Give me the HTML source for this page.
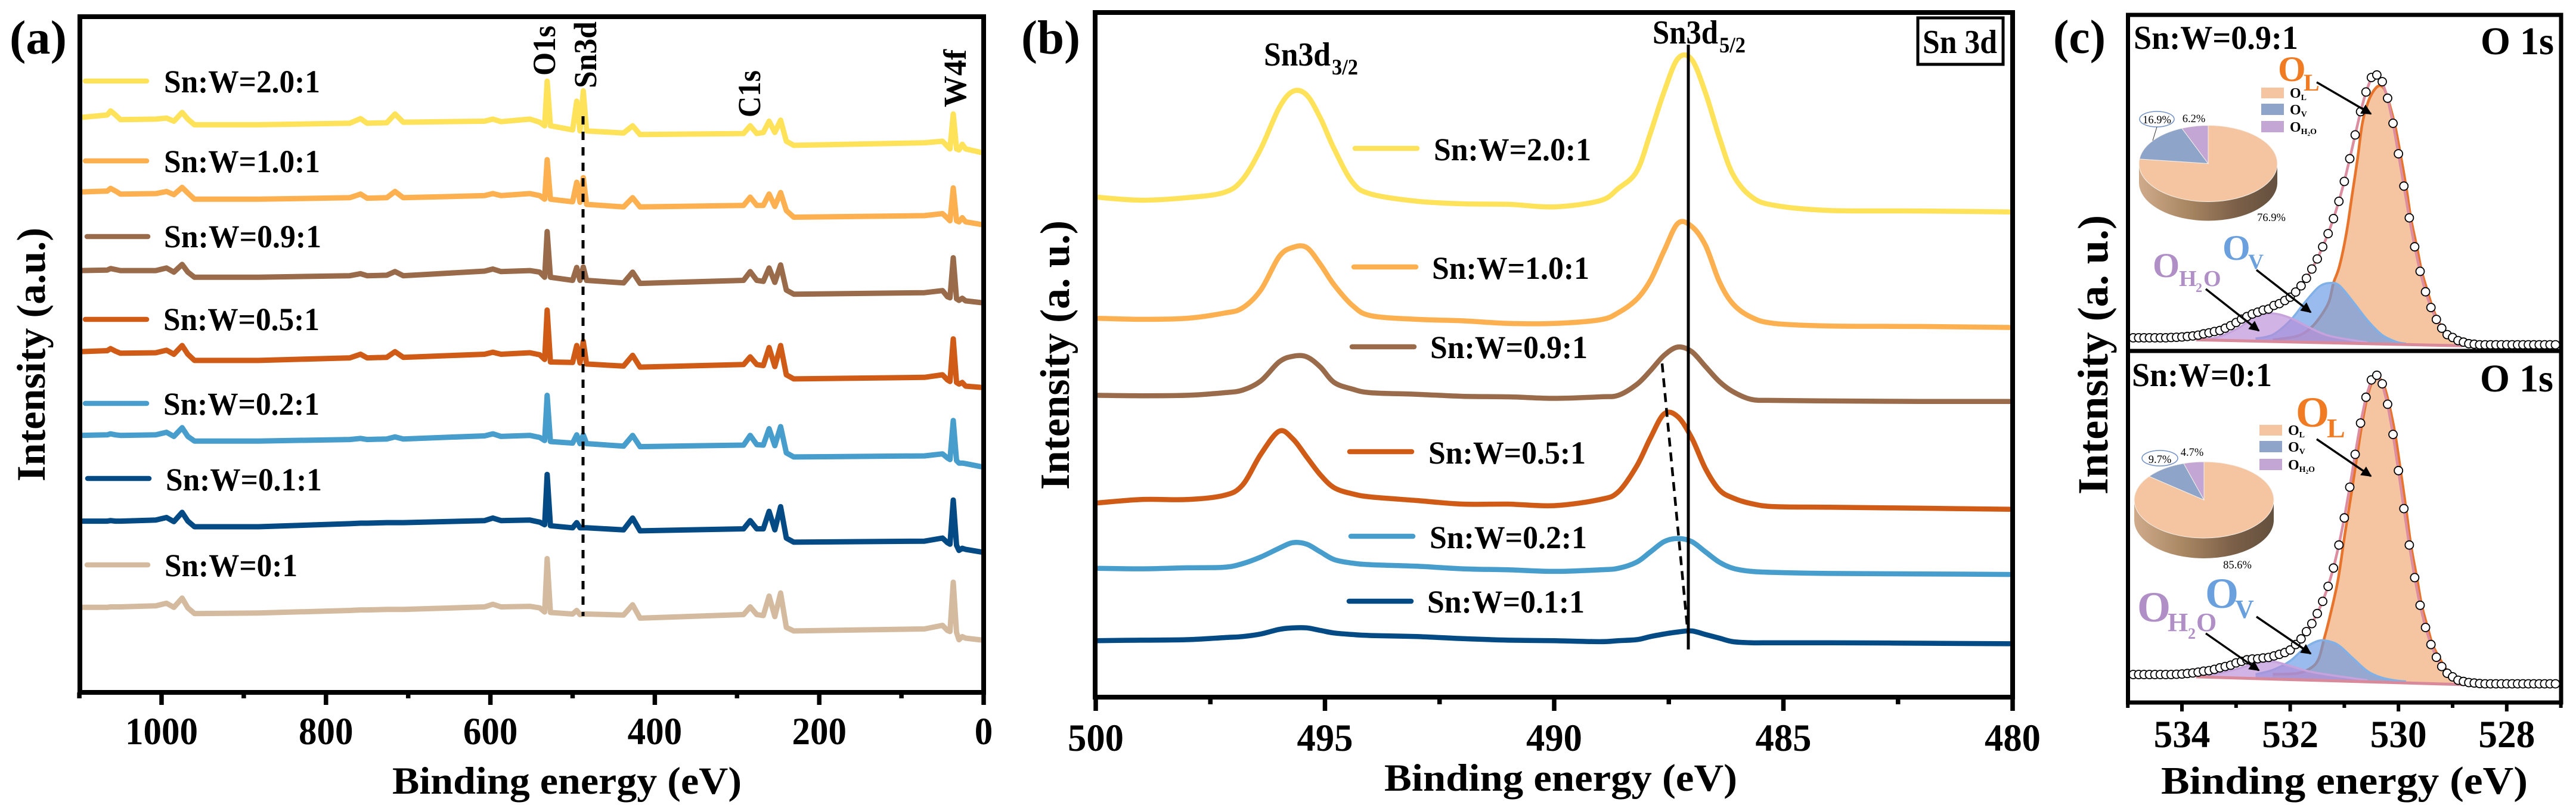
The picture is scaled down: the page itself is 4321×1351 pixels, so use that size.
<!DOCTYPE html>
<html lang="en">
<head>
<meta charset="utf-8">
<title>XPS spectra of Sn:W samples</title>
<style>
html,body{margin:0;padding:0;background:#fff;}
svg{display:block;}
text{font-family:"Liberation Serif",serif;font-weight:bold;fill:#000;}
.lg{font-size:54px;}
.thin{font-weight:normal;}
</style>
</head>
<body>
<svg id="figure" xmlns="http://www.w3.org/2000/svg" width="4321" height="1351" viewBox="0 0 4321 1351">
<defs>
<linearGradient id="pieSide" x1="0" x2="1" y1="0" y2="0">
<stop offset="0" stop-color="#cfab8b"/><stop offset="0.35" stop-color="#a98763"/><stop offset="0.7" stop-color="#7c6048"/><stop offset="1" stop-color="#63503e"/>
</linearGradient>
<marker id="arrowHead" viewBox="0 0 10 10" refX="9" refY="5" markerWidth="5" markerHeight="5" orient="auto"><path d="M0 0L10 5L0 10Z" fill="#000"/></marker>
</defs>
<rect width="4321" height="1351" fill="#fff"/>

<g id="panelA">
<g id="seriesA"></g>
<rect x="134" y="28" width="1516" height="1134" fill="none" stroke="#000" stroke-width="8"/>
<g id="ticksA"></g>
<line x1="978" y1="195" x2="978" y2="1034" stroke="#000" stroke-width="5" stroke-dasharray="14 12"/>
<text x="16" y="90" font-size="80" textLength="96" lengthAdjust="spacingAndGlyphs">(a)</text>
<text transform="translate(75,808) rotate(-90)" font-size="68" textLength="426" lengthAdjust="spacingAndGlyphs">Intensity (a.u.)</text>
<text x="658" y="1332" font-size="65" textLength="586" lengthAdjust="spacingAndGlyphs">Binding energy (eV)</text>
<text transform="translate(931,127) rotate(-90)" font-size="54" textLength="84" lengthAdjust="spacingAndGlyphs">O1s</text>
<text transform="translate(1000,148) rotate(-90)" font-size="54" textLength="112" lengthAdjust="spacingAndGlyphs">Sn3d</text>
<text transform="translate(1275,197) rotate(-90)" font-size="54" textLength="79" lengthAdjust="spacingAndGlyphs">C1s</text>
<text transform="translate(1620,180) rotate(-90)" font-size="54" textLength="97" lengthAdjust="spacingAndGlyphs">W4f</text>
<g stroke-linecap="round">
<line x1="143" y1="136" x2="246" y2="136" stroke="#fde25a" stroke-width="8.6"/>
<text class="lg" x="275" y="155" textLength="262" lengthAdjust="spacingAndGlyphs">Sn:W=2.0:1</text>
<line x1="143" y1="270" x2="246" y2="270" stroke="#fdb04f" stroke-width="8.6"/>
<text class="lg" x="275" y="289" textLength="262" lengthAdjust="spacingAndGlyphs">Sn:W=1.0:1</text>
<line x1="146" y1="397" x2="248" y2="397" stroke="#9a6b4a" stroke-width="8.6"/>
<text class="lg" x="275" y="415" textLength="264" lengthAdjust="spacingAndGlyphs">Sn:W=0.9:1</text>
<line x1="143" y1="536" x2="246" y2="536" stroke="#cf5b17" stroke-width="8.6"/>
<text class="lg" x="274" y="554" textLength="262" lengthAdjust="spacingAndGlyphs">Sn:W=0.5:1</text>
<line x1="143" y1="677" x2="246" y2="677" stroke="#479dcb" stroke-width="8.6"/>
<text class="lg" x="274" y="696" textLength="262" lengthAdjust="spacingAndGlyphs">Sn:W=0.2:1</text>
<line x1="147" y1="803" x2="250" y2="803" stroke="#044a85" stroke-width="8.6"/>
<text class="lg" x="278" y="823" textLength="262" lengthAdjust="spacingAndGlyphs">Sn:W=0.1:1</text>
<line x1="146" y1="948" x2="248" y2="948" stroke="#d4bb9f" stroke-width="8.6"/>
<text class="lg" x="276" y="967" textLength="223" lengthAdjust="spacingAndGlyphs">Sn:W=0:1</text>
</g>
</g>

<g id="panelB">
<g id="seriesB"></g>
<rect x="1837" y="21" width="1539" height="1149" fill="none" stroke="#000" stroke-width="8"/>
<g id="ticksB"></g>
<line x1="2832" y1="75" x2="2832" y2="1090" stroke="#000" stroke-width="5"/>
<line x1="2788" y1="610" x2="2831" y2="1060" stroke="#000" stroke-width="4.5" stroke-dasharray="15 10"/>
<text x="1713" y="90" font-size="80" textLength="99" lengthAdjust="spacingAndGlyphs">(b)</text>
<text transform="translate(1793,822) rotate(-90)" font-size="70" textLength="452" lengthAdjust="spacingAndGlyphs">Intensity (a. u.)</text>
<text x="2322" y="1327" font-size="65" textLength="592" lengthAdjust="spacingAndGlyphs">Binding energy (eV)</text>
<g>
<text x="2120" y="110" font-size="56" textLength="112" lengthAdjust="spacingAndGlyphs">Sn3d</text>
<text x="2234" y="125" font-size="37" textLength="44" lengthAdjust="spacingAndGlyphs">3/2</text>
</g>
<g>
<text x="2772" y="73" font-size="56" textLength="110" lengthAdjust="spacingAndGlyphs">Sn3d</text>
<text x="2884" y="88" font-size="37" textLength="44" lengthAdjust="spacingAndGlyphs">5/2</text>
</g>
<rect x="3217" y="30" width="143" height="78" fill="#fff" stroke="#000" stroke-width="5"/>
<text x="3225" y="89" font-size="56" textLength="125" lengthAdjust="spacingAndGlyphs">Sn 3d</text>
<g stroke-linecap="round">
<line x1="2273" y1="249" x2="2377" y2="249" stroke="#fde25a" stroke-width="8.6"/>
<text class="lg" x="2405" y="269" textLength="264" lengthAdjust="spacingAndGlyphs">Sn:W=2.0:1</text>
<line x1="2271" y1="448" x2="2375" y2="448" stroke="#fdb04f" stroke-width="8.6"/>
<text class="lg" x="2402" y="468" textLength="264" lengthAdjust="spacingAndGlyphs">Sn:W=1.0:1</text>
<line x1="2268" y1="582" x2="2372" y2="582" stroke="#9a6b4a" stroke-width="8.6"/>
<text class="lg" x="2399" y="601" textLength="264" lengthAdjust="spacingAndGlyphs">Sn:W=0.9:1</text>
<line x1="2264" y1="758" x2="2368" y2="758" stroke="#cf5b17" stroke-width="8.6"/>
<text class="lg" x="2396" y="778" textLength="264" lengthAdjust="spacingAndGlyphs">Sn:W=0.5:1</text>
<line x1="2266" y1="900" x2="2370" y2="900" stroke="#479dcb" stroke-width="8.6"/>
<text class="lg" x="2398" y="920" textLength="264" lengthAdjust="spacingAndGlyphs">Sn:W=0.2:1</text>
<line x1="2263" y1="1009" x2="2367" y2="1009" stroke="#044a85" stroke-width="8.6"/>
<text class="lg" x="2394" y="1028" textLength="264" lengthAdjust="spacingAndGlyphs">Sn:W=0.1:1</text>
</g>
</g>

<g id="panelC">
<g id="fitsC"></g>
<rect x="3569.5" y="25" width="726.5" height="1154" fill="none" stroke="#000" stroke-width="7"/>
<line x1="3569" y1="589" x2="4296" y2="589" stroke="#000" stroke-width="7"/>
<g id="ticksC"></g>
<g id="piesC"></g>
<text x="3444" y="89" font-size="80" textLength="88" lengthAdjust="spacingAndGlyphs">(c)</text>
<text transform="translate(3535,830) rotate(-90)" font-size="72" textLength="469" lengthAdjust="spacingAndGlyphs">Intensity (a. u.)</text>
<text x="3625" y="1332" font-size="66" textLength="615" lengthAdjust="spacingAndGlyphs">Binding energy (eV)</text>
<text x="3579" y="82" font-size="56" textLength="276" lengthAdjust="spacingAndGlyphs">Sn:W=0.9:1</text>
<text x="4161" y="91" font-size="66" textLength="123" lengthAdjust="spacingAndGlyphs">O 1s</text>
<text x="3576" y="648" font-size="56" textLength="235" lengthAdjust="spacingAndGlyphs">Sn:W=0:1</text>
<text x="4160" y="657" font-size="66" textLength="123" lengthAdjust="spacingAndGlyphs">O 1s</text>

<g>
<rect x="3793" y="147" width="38" height="18" fill="#f5c4a0"/>
<text x="3841" y="164" font-size="24">O<tspan font-size="14" dy="4">L</tspan></text>
<rect x="3793" y="174" width="38" height="19" fill="#8ea4c8"/>
<text x="3841" y="192" font-size="24">O<tspan font-size="14" dy="4">V</tspan></text>
<rect x="3793" y="203" width="38" height="19" fill="#c3a6d3"/>
<text x="3841" y="221" font-size="24">O<tspan font-size="14" dy="4">H</tspan><tspan font-size="9" dy="3">2</tspan><tspan font-size="14" dy="-3">O</tspan></text>
</g>
<g>
<rect x="3790" y="713" width="38" height="18" fill="#f5c4a0"/>
<text x="3838" y="730" font-size="24">O<tspan font-size="14" dy="4">L</tspan></text>
<rect x="3790" y="740" width="38" height="19" fill="#8ea4c8"/>
<text x="3838" y="758" font-size="24">O<tspan font-size="14" dy="4">V</tspan></text>
<rect x="3790" y="770" width="38" height="19" fill="#c3a6d3"/>
<text x="3838" y="788" font-size="24">O<tspan font-size="14" dy="4">H</tspan><tspan font-size="9" dy="3">2</tspan><tspan font-size="14" dy="-3">O</tspan></text>
</g>

<g>
<ellipse cx="3618" cy="200" rx="29" ry="13" fill="none" stroke="#6f8fc5" stroke-width="1.5"/>
<line x1="3618" y1="213" x2="3611" y2="236" stroke="#333" stroke-width="1"/>
<text class="thin" x="3618" y="207" font-size="18.5" text-anchor="middle">16.9%</text>
<text class="thin" x="3680" y="205" font-size="18.5" text-anchor="middle">6.2%</text>
<text class="thin" x="3810" y="371" font-size="18.5" text-anchor="middle">76.9%</text>
</g>
<g>
<ellipse cx="3623" cy="769" rx="30" ry="13" fill="none" stroke="#6f8fc5" stroke-width="1.5"/>
<text class="thin" x="3623" y="777" font-size="18.5" text-anchor="middle">9.7%</text>
<text class="thin" x="3677" y="765" font-size="18.5" text-anchor="middle">4.7%</text>
<text class="thin" x="3753" y="954" font-size="18.5" text-anchor="middle">85.6%</text>
</g>

<g>
<text x="3821" y="136" font-size="60" style="fill:#f07b23">O</text>
<text x="3864" y="152" font-size="40" style="fill:#f07b23">L</text>
<text x="3728" y="436" font-size="60" style="fill:#6ba0de">O</text>
<text x="3771" y="451" font-size="36" style="fill:#6ba0de">V</text>
<text x="3611" y="465" font-size="58" style="fill:#b08fc7">O</text>
<text x="3655" y="480" font-size="38" style="fill:#b08fc7">H</text>
<text x="3683" y="490" font-size="22" style="fill:#b08fc7">2</text>
<text x="3696" y="480" font-size="38" style="fill:#b08fc7">O</text>
</g>
<g>
<text x="3851" y="716" font-size="72" style="fill:#f07b23">O</text>
<text x="3903" y="734" font-size="46" style="fill:#f07b23">L</text>
<text x="3699" y="1020" font-size="72" style="fill:#6ba0de">O</text>
<text x="3749" y="1037" font-size="44" style="fill:#6ba0de">V</text>
<text x="3585" y="1043" font-size="72" style="fill:#b08fc7">O</text>
<text x="3636" y="1059" font-size="44" style="fill:#b08fc7">H</text>
<text x="3670" y="1072" font-size="26" style="fill:#b08fc7">2</text>
<text x="3684" y="1059" font-size="44" style="fill:#b08fc7">O</text>
</g>
<g stroke="#000" stroke-width="3.5">
<line x1="3886" y1="138" x2="3977" y2="191" marker-end="url(#arrowHead)"/>
<line x1="3785" y1="453" x2="3876" y2="524" marker-end="url(#arrowHead)"/>
<line x1="3700" y1="485" x2="3789" y2="555" marker-end="url(#arrowHead)"/>
<line x1="3886" y1="737" x2="3977" y2="799" marker-end="url(#arrowHead)"/>
<line x1="3785" y1="1035" x2="3876" y2="1097" marker-end="url(#arrowHead)"/>
<line x1="3700" y1="1063" x2="3789" y2="1125" marker-end="url(#arrowHead)"/>
</g>
</g>
</svg>

<script>
/* ---------- Panel (a): survey spectra ---------- */
const surveyEnergies = [1100,1066,1062,1056,1050,1007,994,985,975,968,960,882,771,758,750,726,716,706,607,597,587,552,540,534,531,527,500,495,491,487,483,438,427,418,292,284,276,268,261,254,247,240,231,72,50,44,41,37,33,30,26,22,0];
const surveyW20 = [1121,1126,1134,1126,1117,1118,1120,1114,1131,1118,1107,1107,1110,1119,1110,1111,1128,1112,1114,1118,1113,1118,1112,1105,1192,1105,1097,1153,1095,1173,1095,1091,1105,1088,1090,1105,1090,1092,1114,1092,1116,1075,1067,1072,1075,1065,1060,1128,1060,1058,1069,1060,1052];
const surveyW10 = [976,978,983,978,972,973,977,971,985,974,962,962,965,972,964,965,977,965,969,973,969,973,969,962,1039,962,957,995,956,1004,952,947,965,947,950,966,950,950,972,948,975,940,927,930,934,925,920,984,920,918,926,918,912];
const surveyW09 = [823,824,827,825,823,823,828,820,835,820,810,810,813,817,813,814,821,813,822,826,821,823,820,810,899,810,804,829,804,830,804,799,820,798,804,821,804,802,828,800,834,785,777,780,784,772,770,848,768,765,769,764,760];
const surveyW05 = [665,667,671,666,662,663,668,660,677,660,648,648,653,660,653,654,665,654,660,664,660,663,659,650,746,645,644,677,643,685,641,637,658,635,640,655,640,638,673,636,677,620,612,615,620,610,607,690,605,602,605,598,595];
const surveyW02 = [502,503,505,503,502,503,508,500,517,500,491,491,494,496,494,495,499,495,501,505,500,502,498,492,580,490,487,503,486,503,486,481,502,480,483,502,484,483,515,482,519,468,460,462,466,458,455,531,453,448,448,447,440];
const surveyW01 = [335,335,336,335,335,337,342,334,352,335,324,324,330,331,331,332,332,332,336,341,336,337,333,328,426,326,322,332,322,322,322,318,341,316,320,336,320,320,354,318,363,302,294,296,302,293,290,376,288,278,282,280,274];
const surveyW00 = [167,167,168,168,168,170,175,167,185,166,155,156,161,162,162,163,163,163,168,173,168,169,166,158,262,157,154,161,153,154,154,152,172,146,153,168,153,151,189,149,195,128,121,125,132,122,120,216,118,104,110,107,103];
const surveyMajorTicks = [1000,800,600,400,200,0];
const surveyMinorTicks = [1100,900,700,500,300,100];

/* ---------- Panel (b): Sn 3d spectra ---------- */
const snEnergies = [500,499,498,497.2,496.8,496.4,496,495.7,495.4,495.1,494.8,494.4,494,493,492,491,490,489,488.6,488.2,487.9,487.6,487.3,487,486.7,486.4,486.1,485.7,485.2,484,482,480];
const snW20 = [974,968,973,983,1008,1068,1148,1180,1173,1128,1068,1003,980,966,961,960,955,967,991,1024,1099,1180,1244,1242,1177,1091,1018,975,958,948,947,945];
const snW10 = [738,736,738,748,758,793,858,876,876,843,803,763,743,736,733,728,728,735,749,775,812,870,923,917,880,810,766,740,728,723,722,720];
const snW09 = [588,587,588,593,598,616,653,664,663,643,613,600,593,590,586,585,582,585,588,609,636,666,682,673,644,615,595,580,578,577,576,576];
const snW05 = [378,385,385,393,413,473,518,503,468,433,408,396,390,383,376,376,373,385,400,450,505,552,546,505,445,404,388,377,371,370,368,366];
const snW02 = [251,250,252,253,260,273,290,301,298,283,268,261,258,255,250,248,245,248,251,263,283,303,309,303,283,263,251,245,243,241,240,239];
const snW01 = [110,111,112,116,118,123,132,135,135,130,125,122,120,118,114,111,110,108,110,112,118,123,127,129,122,115,108,106,106,106,105,104];
const snMajorTicks = [500,495,490,485,480];
const snMinorTicks = [497.5,492.5,487.5,482.5];

/* ---------- Panel (c): O 1s spectra ---------- */
const o1sEnergies = [534.9,534.8,534.7,534.6,534.5,534.4,534.3,534.2,534.1,534.0,533.9,533.8,533.7,533.6,533.5,533.4,533.3,533.2,533.1,533.0,532.9,532.8,532.7,532.6,532.5,532.4,532.3,532.2,532.1,532.0,531.9,531.8,531.7,531.6,531.5,531.4,531.3,531.2,531.1,531.0,530.9,530.8,530.7,530.6,530.5,530.4,530.3,530.2,530.1,530.0,529.9,529.8,529.7,529.6,529.5,529.4,529.3,529.2,529.1,529.0,528.9,528.8,528.7,528.6,528.5,528.4,528.3,528.2,528.1,528.0,527.9,527.8,527.7,527.6,527.5,527.4,527.3,527.2,527.1];
const topRaw = [43,43,43,43,43,43,43,44,45,46,48,50,53,58,62,67,71,80,90,102,115,125,135,142,150,154,168,175,187,200,220,244,273,309,348,395,446,504,571,648,736,828,918,994,1050,1060,1034,970,873,755,630,507,395,300,221,160,114,80,55,44,32,26,20,18,16,16,16,16,16,16,16,16,16,16,16,16,16,16,16];
const bottomRaw = [109,109,109,109,109,109,109,109,110,111,113,115,118,122,124,129,135,140,145,154,160,166,169,170,173,175,181,187,194,204,225,247,275,306,345,392,450,521,610,715,834,961,1082,1182,1249,1267,1234,1155,1038,898,751,610,484,377,291,225,176,140,114,100,87,82,78,76,74,73,73,73,73,73,73,73,73,73,73,73,73,73,73,73];
const topOLEnergies = [532.32,531.86,531.6,531.41,531.28,531.2,531.09,530.96,530.86,530.76,530.67,530.57,530.47,530.36,530.26,530.17,530.06,529.96,529.86,529.77,529.66,529.57,529.46,529.37,529.27,529.15,529.02,528.82];
const topOL = [35,50,85,135,185,255,320,450,590,730,870,950,995,1018,1005,950,860,750,630,505,395,300,221,160,110,70,40,12];
const bottomOLEnergies = [532.32,531.86,531.6,531.47,531.38,531.28,531.12,530.99,530.86,530.76,530.67,530.57,530.47,530.36,530.26,530.17,530.06,529.96,529.86,529.77,529.66,529.57,529.46,529.37,529.24,529.11,528.95,528.82];
const bottomOL = [110,114,137,172,242,322,472,652,822,962,1082,1187,1247,1257,1222,1152,1038,898,751,610,484,377,291,225,172,127,92,72];
const ovEnergies = [532.64,532.32,532.0,531.73,531.47,531.27,531.09,530.83,530.57,530.31,530.05,529.86];
const topOV = [40,55,110,180,240,255,245,180,110,55,28,20];
const bottomOV = [110,127,162,212,240,237,220,170,122,97,86,82];
const oh2oEnergies = [533.74,533.35,532.96,532.64,532.32,532.0,531.67,531.35,531.03,530.57];
const topOH2O = [35,45,80,125,137,120,85,55,40,25];
const bottomOH2O = [102,112,132,152,159,142,122,110,100,87];
const baselineEnergies = [533.74,528.82];
const topBaseline = [35,12];
const bottomBaseline = [100,70];
const o1sMajorTicks = [534,532,530,528];
const o1sMinorTicks = [535,533,531,529,527];
const topPieShares = [76.9,16.9,6.2];
const bottomPieShares = [85.6,9.7,4.7];

/* ---------- colours ---------- */
const SERIES_COLORS = {w20:'#fde25a',w10:'#fdb04f',w09:'#9a6b4a',w05:'#cf5b17',w02:'#479dcb',w01:'#044a85',w00:'#d4bb9f'};
const PIE_COLORS = ['#f5c4a0','#8ea4c8','#c3a6d3'];
const SVG_NS = 'http://www.w3.org/2000/svg';

/* ---------- axis functions ---------- */
const xA = e => 1650 - e * 1.379;
const yA = v => 1163.2 - v * 0.8616;
const xB = e => 1838 + (500 - e) * 76.9;
const yB = v => 1170 - v * 0.8616;
const xC = e => 3660 + (534 - e) * 90.8;
const yTop = v => 585.5 - v * 0.4337;
const yBottom = v => 1179.3 - v * 0.4337;

function mk(tag, attrs, parent) {
  const n = document.createElementNS(SVG_NS, tag);
  for (const k in attrs) n.setAttribute(k, attrs[k]);
  parent.appendChild(n);
  return n;
}
function polyline(xs, ys, fx, fy) {
  const n = Math.min(xs.length, ys.length);
  let d = '';
  for (let i = 0; i < n; i++) d += (i ? 'L' : 'M') + fx(xs[i]).toFixed(1) + ' ' + fy(ys[i]).toFixed(1);
  return d;
}
function smooth(xs, ys, fx, fy) {
  const n = Math.min(xs.length, ys.length), p = [];
  for (let i = 0; i < n; i++) p.push([fx(xs[i]), fy(ys[i])]);
  let d = 'M' + p[0][0].toFixed(1) + ' ' + p[0][1].toFixed(1);
  for (let i = 0; i < n - 1; i++) {
    const a = p[Math.max(i - 1, 0)], b = p[i], c = p[i + 1], e = p[Math.min(i + 2, n - 1)];
    d += 'C' + (b[0] + (c[0] - a[0]) / 6).toFixed(1) + ' ' + (b[1] + (c[1] - a[1]) / 6).toFixed(1) + ' ' +
         (c[0] - (e[0] - b[0]) / 6).toFixed(1) + ' ' + (c[1] - (e[1] - b[1]) / 6).toFixed(1) + ' ' +
         c[0].toFixed(1) + ' ' + c[1].toFixed(1);
  }
  return d;
}

/* ---------- draw (a) and (b) series ---------- */
const seriesA = document.getElementById('seriesA');
[['w00',surveyW00],['w01',surveyW01],['w02',surveyW02],['w05',surveyW05],['w09',surveyW09],['w10',surveyW10],['w20',surveyW20]].forEach(function (s) {
  const el = mk('path', {d: polyline(surveyEnergies, s[1], xA, yA), fill: 'none', stroke: SERIES_COLORS[s[0]], 'stroke-width': 9, 'stroke-linejoin': 'round'}, seriesA);
  
  
});
const seriesB = document.getElementById('seriesB');
[['w01',snW01],['w02',snW02],['w05',snW05],['w09',snW09],['w10',snW10],['w20',snW20]].forEach(function (s) {
  const el = mk('path', {d: smooth(snEnergies, s[1], xB, yB), fill: 'none', stroke: SERIES_COLORS[s[0]], 'stroke-width': 8.5, 'stroke-linejoin': 'round'}, seriesB);
  
  
});

/* ---------- ticks ---------- */
function drawTicks(groupId, major, minor, fx, axisY, majorLen, minorLen, labelY, fontSize, tickWidth, digitWidth) {
  const g = document.getElementById(groupId);
  major.forEach(function (t) {
    const tick = mk('line', {x1: fx(t), x2: fx(t), y1: axisY, y2: axisY + majorLen, stroke: '#000', 'stroke-width': tickWidth}, g);
    
    
    const label = mk('text', {x: fx(t), y: labelY, 'font-size': fontSize, 'text-anchor': 'middle', textLength: String(t).length * digitWidth, lengthAdjust: 'spacingAndGlyphs'}, g);
    label.textContent = String(t);
    
    
  });
  minor.forEach(function (t) {
    const tick = mk('line', {x1: fx(t), x2: fx(t), y1: axisY, y2: axisY + minorLen, stroke: '#000', 'stroke-width': tickWidth}, g);
    
    
  });
}
drawTicks('ticksA', surveyMajorTicks, surveyMinorTicks, xA, 1162, 21, 10, 1249, 65, 7.5, 30.5);
drawTicks('ticksB', snMajorTicks, snMinorTicks, xB, 1170, 23, 12, 1260, 65, 7.5, 31.3);
drawTicks('ticksC', o1sMajorTicks, o1sMinorTicks, xC, 1179, 15, 9, 1254, 65, 6, 31.6);

/* ---------- draw (c) fits ---------- */
function baseAt(e, base) {
  const t = (e - baselineEnergies[0]) / (baselineEnergies[1] - baselineEnergies[0]);
  return base[0] + (base[1] - base[0]) * t;
}
function drawO1s(prefix, raw, olE, ol, ov, oh2o, base, fy) {
  const g = document.getElementById('fitsC');
  const closeOn = function (xs) {
    const last = xs[xs.length - 1], first = xs[0];
    return 'L' + xC(last).toFixed(1) + ' ' + fy(baseAt(last, base)).toFixed(1) + 'L' + xC(first).toFixed(1) + ' ' + fy(baseAt(first, base)).toFixed(1) + 'Z';
  };
  const olFill = mk('path', {d: smooth(olE, ol, xC, fy) + closeOn(olE), fill: '#f5c4a0', stroke: 'none'}, g);
  
  
  const olLine = mk('path', {d: smooth(olE, ol, xC, fy), fill: 'none', stroke: '#e8732a', 'stroke-width': 4.5}, g);
  
  
  const ovFill = mk('path', {d: smooth(ovEnergies, ov, xC, fy) + closeOn(ovEnergies), fill: 'rgba(105,155,230,0.68)', stroke: 'none'}, g);
  
  
  const ovLine = mk('path', {d: smooth(ovEnergies, ov, xC, fy), fill: 'none', stroke: '#7fb0e8', 'stroke-width': 3.5}, g);
  
  
  const phFill = mk('path', {d: smooth(oh2oEnergies, oh2o, xC, fy) + closeOn(oh2oEnergies), fill: 'rgba(185,140,215,0.65)', stroke: 'none'}, g);
  
  
  const phLine = mk('path', {d: smooth(oh2oEnergies, oh2o, xC, fy), fill: 'none', stroke: '#c6a3dc', 'stroke-width': 3.5}, g);
  
  
  const bl = mk('path', {d: polyline(baselineEnergies, base, xC, fy), fill: 'none', stroke: '#d98a9a', 'stroke-width': 5}, g);
  
  
  const env = mk('path', {d: polyline(o1sEnergies.slice(12, 62), raw.slice(12, 62), xC, fy), fill: 'none', stroke: '#dc8da0', 'stroke-width': 4.5, 'stroke-linejoin': 'round'}, g);
  
  
  o1sEnergies.forEach(function (e, i) {
    const c = mk('circle', {cx: xC(e).toFixed(1), cy: fy(raw[i]).toFixed(1), r: 7, fill: '#fff', stroke: '#000', 'stroke-width': 1.8}, g);
    
    
  });
}
drawO1s('top', topRaw, topOLEnergies, topOL, topOV, topOH2O, topBaseline, yTop);
drawO1s('bottom', bottomRaw, bottomOLEnergies, bottomOL, bottomOV, bottomOH2O, bottomBaseline, yBottom);

/* ---------- draw pies ---------- */
function drawPie(prefix, shares, cx, cy, rx, ry, depth) {
  const g = document.getElementById('piesC');
  const side = mk('path', {d: 'M' + (cx - rx) + ' ' + cy + 'A' + rx + ' ' + ry + ' 0 0 0 ' + (cx + rx) + ' ' + cy + 'L' + (cx + rx) + ' ' + (cy + depth) + 'A' + rx + ' ' + ry + ' 0 0 1 ' + (cx - rx) + ' ' + (cy + depth) + 'Z', fill: 'url(#pieSide)'}, g);
  
  
  const total = shares.reduce(function (a, b) { return a + b; }, 0);
  let acc = 0;
  shares.forEach(function (v, i) {
    const a0 = acc / total * 2 * Math.PI;
    acc += v;
    const a1 = acc / total * 2 * Math.PI;
    const d = 'M' + cx + ' ' + cy + 'L' + (cx + rx * Math.sin(a0)).toFixed(1) + ' ' + (cy - ry * Math.cos(a0)).toFixed(1) +
      'A' + rx + ' ' + ry + ' 0 ' + (a1 - a0 > Math.PI ? 1 : 0) + ' 1 ' + (cx + rx * Math.sin(a1)).toFixed(1) + ' ' + (cy - ry * Math.cos(a1)).toFixed(1) + 'Z';
    const s = mk('path', {d: d, fill: PIE_COLORS[i], stroke: '#f4f0ea', 'stroke-width': 1}, g);
    
    
  });
}
drawPie('top', topPieShares, 3704, 274.5, 116, 64, 32);
drawPie('bottom', bottomPieShares, 3697, 839, 117, 64, 34);
</script>
</body>
</html>
